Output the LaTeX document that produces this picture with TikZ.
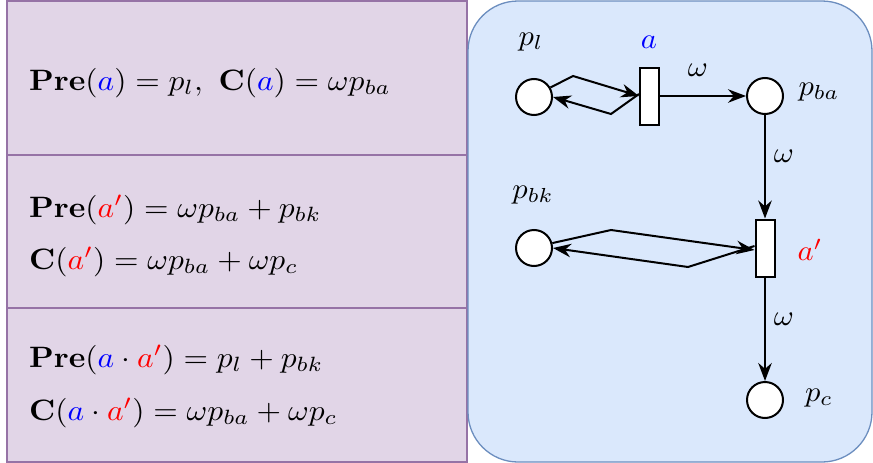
\documentclass[tikz,border=0pt]{standalone}
\usepackage{graphicx}
\usepackage{amsmath}
\usetikzlibrary{arrows.meta}
\definecolor{boxfill}{HTML}{E1D5E7}
\definecolor{boxline}{HTML}{9673A6}
\definecolor{netfill}{HTML}{DAE8FC}
\definecolor{netline}{HTML}{6C8EBF}
\definecolor{mblue}{HTML}{0000FF}
\definecolor{mred}{HTML}{FF0000}
\newcommand{\bigeq}[1]{\scalebox{3.15}[2.95]{$#1$}}
\newcommand{\biglbl}[1]{\scalebox{3.05}[2.9]{$#1$}}
\begin{document}
\begin{tikzpicture}[x=1pt,y=-1pt,
  place/.style={circle,draw,fill=white,line width=2pt,minimum size=36pt,inner sep=0pt},
  trans/.style={rectangle,draw,fill=white,line width=2pt,minimum width=19pt,minimum height=57pt,inner sep=0pt},
  arc/.style={line width=2pt,-{Stealth[scale=1.5]}},
  lbl/.style={inner sep=0pt},
  eq/.style={inner sep=0pt,anchor=west},
  panel/.style={draw=boxline,fill=boxfill,line width=1.3pt}]
\useasboundingbox (0,0) rectangle (873,463);
% left panels
\draw[panel] (7,1) rectangle (467,155);
\draw[panel] (7,155) rectangle (467,308);
\draw[panel] (7,308) rectangle (467,462);
\node[eq] (e1) at (29,83) {\bigeq{\mathbf{Pre}({\color{mblue}a})=p_l,\ \mathbf{C}({\color{mblue}a})=\omega p_{ba}}};
\node[eq] (e2) at (29,210) {\bigeq{\mathbf{Pre}({\color{mred}a'})=\omega p_{ba}+p_{bk}}};
\node[eq] (e3) at (29,262) {\bigeq{\mathbf{C}({\color{mred}a'})=\omega p_{ba}+\omega p_{c}}};
\node[eq] (e4) at (29,360) {\bigeq{\mathbf{Pre}({\color{mblue}a}\cdot{\color{mred}a'})=p_l+p_{bk}}};
\node[eq] (e5) at (29,413) {\bigeq{\mathbf{C}({\color{mblue}a}\cdot{\color{mred}a'})=\omega p_{ba}+\omega p_{c}}};
% right panel
\draw[draw=netline,fill=netfill,line width=1.3pt,rounded corners=50pt] (468,1) rectangle (872,462);
% net
\node[place] (pl) at (534,97) {};
\node[trans] (a) at (649.5,96) {};
\node[place] (pba) at (765,96) {};
\node[trans] (a2) at (765,248) {};
\node[place] (pbk) at (534,248) {};
\node[place] (pc) at (765,400) {};
\coordinate (k1) at (573,76);
\coordinate (k2) at (611,114);
\coordinate (k3) at (611,230);
\coordinate (k4) at (688,267);
\draw[arc] (pl.30) -- (k1) -- (a.west);
\draw[arc] ([yshift=2pt]a.west) -- (k2) -- (pl.east);
\draw[arc] (a.east) -- (pba.west);
\draw[arc] (pba.south) -- (a2.north);
\draw[arc] (a2.south) -- (pc.north);
\draw[arc] (pbk.15) -- (k3) -- ([yshift=-2pt]a2.west);
\draw[arc] ([yshift=2pt]a2.west) -- (k4) -- (pbk.east);
% labels
\node[lbl] (tpl) at (531,42) {\biglbl{p_l}};
\node[lbl] (ta) at (649,42) {\biglbl{\color{mblue}a}};
\node[lbl] (w1) at (698,70) {\biglbl{\omega}};
\node[lbl] (tpba) at (819,92) {\biglbl{p_{ba}}};
\node[lbl] (w2) at (784,156) {\biglbl{\omega}};
\node[lbl] (tpbk) at (533,195) {\biglbl{p_{bk}}};
\node[lbl] (ta2) at (810,250) {\biglbl{\color{mred}a'}};
\node[lbl] (w3) at (784,319) {\biglbl{\omega}};
\node[lbl] (tpc) at (819,398) {\biglbl{p_c}};
\end{tikzpicture}
\end{document}
